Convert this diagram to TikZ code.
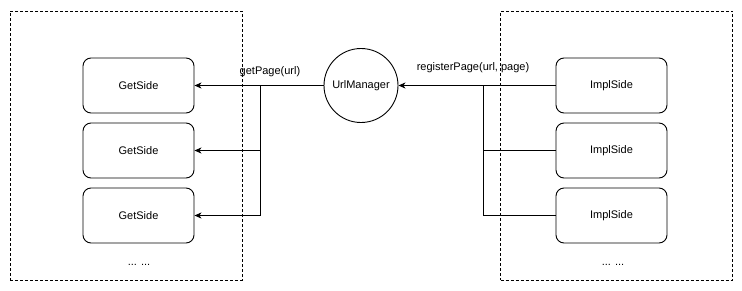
\documentclass[tikz,border=0pt]{standalone}
\usepackage{fontspec}
\setmainfont{Liberation Sans}
\usetikzlibrary{arrows.meta}
\begin{document}
\begin{tikzpicture}[x=1pt,y=-1pt,
  font=\fontsize{11}{13}\selectfont,
  line width=0.9pt,
  group/.style={draw, dash pattern=on 3pt off 2pt, line width=0.8pt, minimum width=232pt, minimum height=269pt, inner sep=0pt},
  sidebox/.style={draw, rounded corners=8pt, minimum width=111pt, minimum height=55pt, inner sep=0pt},
  hub/.style={draw, circle, minimum size=74pt, inner sep=0pt},
  call/.style={-{Stealth[length=7pt,width=6pt,inset=2pt]}},
  note/.style={inner sep=0pt}
]
\useasboundingbox (0,0) rectangle (742,290);

% dashed groups
\node[group] (leftgrp)  at (126,145.5) {};
\node[group] (rightgrp) at (616.5,145.5) {};

% central manager
\node[hub] (mgr) at (361,85.5) {UrlManager};

% consumer side
\node[sidebox] (g1) at (138.5,85.5) {GetSide};
\node[sidebox] (g2) at (138.5,150.5) {GetSide};
\node[sidebox] (g3) at (138.5,215.5) {GetSide};
\node[note] (gdots) at (139,265) {... ...};

% implementation side
\node[sidebox] (i1) at (611.5,85.5) {ImplSide};
\node[sidebox] (i2) at (611.5,150.5) {ImplSide};
\node[sidebox] (i3) at (611.5,215.5) {ImplSide};
\node[note] (idots) at (613,265) {... ...};

% branch points
\coordinate (jl) at (260,85.5);
\coordinate (jr) at (483,85.5);

% getPage fan-out
\draw[call] (mgr.west) -- (g1.east);
\draw[call] (jl) |- (g2.east);
\draw[call] (jl) |- (g3.east);
\node[note] (getlbl) at (270,72) {getPage(url)};

% registerPage fan-in
\draw[call] (i1.west) -- (mgr.east);
\draw (i2.west) -| (jr);
\draw (i3.west) -| (jr);
\node[note] (reglbl) at (473,68) {registerPage(url, page)};
\end{tikzpicture}
\end{document}
